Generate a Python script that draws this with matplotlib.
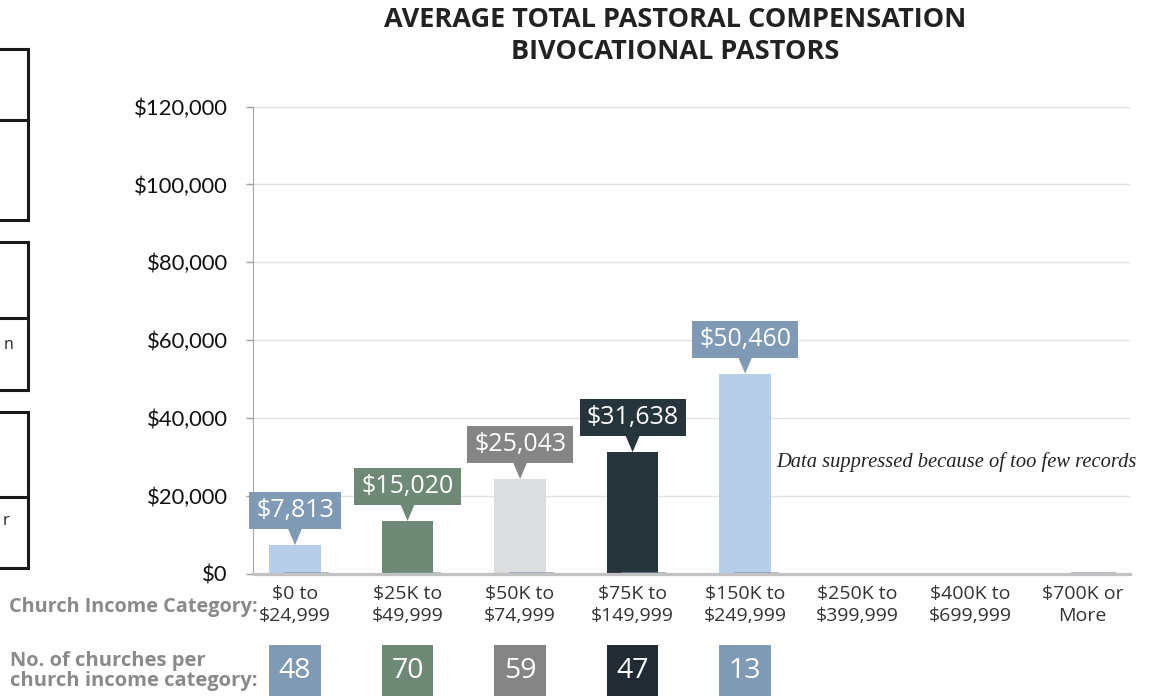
import numpy as np
import matplotlib
matplotlib.use("Agg")
import matplotlib.pyplot as plt
import matplotlib.transforms as mtransforms
from matplotlib.patches import Polygon, Rectangle

# chart data
categories = ["$0 to\n$24,999", "$25K to\n$49,999", "$50K to\n$74,999",
              "$75K to\n$149,999", "$150K to\n$249,999", "$250K to\n$399,999",
              "$400K to\n$699,999", "$700K or\nMore"]
bar_heights = [7300, 13500, 24300, 31200, 51400]
bar_labels = ["$7,813", "$15,020", "$25,043", "$31,638", "$50,460"]
church_counts = [48, 70, 59, 47, 13]
stub_heights = [400, 400, 400, 400, 400, np.nan, np.nan, 400]
y_ticks = [0, 20000, 40000, 60000, 80000, 100000, 120000]

bar_colors = ["#b8cdea", "#6e8a77", "#dcdddf", "#26343b", "#b8cdea"]
label_colors = ["#7f9ab5", "#6e8a77", "#858585", "#26343b", "#7f9ab5"]
count_colors = ["#7f9ab5", "#6e8a77", "#858585", "#202b33", "#7f9ab5"]

W, H = 1155, 696
fig = plt.figure(figsize=(W / 100, H / 100), dpi=100)
ax = fig.add_axes([252.7 / W, 1 - 573.5 / H, (1130 - 252.7) / W, (573.5 - 106.7) / H])

x = np.arange(len(bar_heights))
ax.bar(x, bar_heights, width=0.46, color=bar_colors, zorder=2)
ax.bar(np.arange(len(categories)) + 0.1, stub_heights, width=0.4,
       color="#7f8fa8", alpha=0.6, zorder=3)

ax.set_xlim(-0.376, 7.42)
ax.set_ylim(0, 120000)
ax.set_yticks(y_ticks)
ax.set_yticklabels([f"${v:,.0f}" for v in y_ticks], fontfamily="Lato",
                   fontsize=15.8, color="#111111")
ax.set_xticks(np.arange(len(categories)))
ax.set_xticklabels(categories, fontfamily="Open Sans", fontsize=14,
                   color="#333333", linespacing=1.25)
ax.tick_params(axis="x", length=0, pad=8.5)
ax.tick_params(axis="y", length=5, width=1, color="#a0a0a0", pad=13)
ax.grid(axis="y", color="#e2e2e2", lw=1, zorder=0)
ax.set_axisbelow(True)
for s in ["top", "right"]:
    ax.spines[s].set_visible(False)
ax.spines["left"].set_color("#a8a8a8")
ax.spines["bottom"].set_color("#c2c2c2")
ax.spines["bottom"].set_linewidth(2.3)
ax.spines["bottom"].set_zorder(4)

# value callouts: box + pointer, sized in pixels
renderer = fig.canvas.get_renderer()
for i, (h, lab, c) in enumerate(zip(bar_heights, bar_labels, label_colors)):
    anchor = mtransforms.IdentityTransform() + mtransforms.ScaledTranslation(i, h, ax.transData)
    t = ax.annotate(lab, xy=(i, h), xytext=(0, 34.5), textcoords="offset pixels",
                    ha="center", va="center", fontfamily="Open Sans", fontsize=18,
                    color="white", zorder=6)
    tw = t.get_window_extent(renderer).width
    bw = tw + 14
    ax.add_patch(Rectangle((-bw / 2, 16), bw, 37, fc=c, ec="none",
                           transform=anchor, clip_on=False, zorder=5))
    ax.add_patch(Polygon([(-7, 16.5), (7, 16.5), (0, 0)], closed=True, fc=c, ec="none",
                         transform=anchor, clip_on=False, zorder=5))

fig.text(776 / W, 1 - 462 / H, "Data suppressed because of too few records",
         fontfamily="Liberation Serif", style="italic", fontsize=14.8,
         color="#222222", ha="left", va="center")

# church counts under each category
bt = mtransforms.blended_transform_factory(ax.transData, fig.transFigure)
for i, (n, c) in enumerate(zip(church_counts, count_colors)):
    ax.add_patch(Rectangle((i - 0.23, 0), 0.46, 51 / H, fc=c, ec="none",
                           transform=bt, clip_on=False))
    ax.text(i, 25 / H, str(n), transform=bt, ha="center", va="center",
            fontfamily="Open Sans", fontsize=20.5, color="white")

fig.text(258 / W, 1 - 607 / H, "Church Income Category:", ha="right", va="center",
         fontfamily="Open Sans", fontweight="bold", fontsize=14.3, color="#8a8a8a")
fig.text(10 / W, 1 - 671 / H, "No. of churches per\nchurch income category:",
         ha="left", va="center", fontfamily="Open Sans", fontweight="bold",
         fontsize=14.5, color="#8a8a8a", linespacing=1.05)

fig.text(675 / W, 1 - 36 / H, "AVERAGE TOTAL PASTORAL COMPENSATION\nBIVOCATIONAL PASTORS",
         ha="center", va="center", fontfamily="Open Sans", fontweight="bold",
         fontsize=19.5, color="#222222", linespacing=1.3)

# cut-off boxes from the neighbouring panel on the left edge
for top, mid, bot in [(49, 120, 220), (242, 318, 390), (412, 497, 568)]:
    fig.add_artist(Rectangle((-10 / W, 1 - bot / H), 38 / W, (bot - top) / H,
                             transform=fig.transFigure, fill=False, ec="#1a1a1a", lw=2.2))
    fig.add_artist(plt.Line2D([-10 / W, 28 / W], [1 - mid / H, 1 - mid / H],
                              transform=fig.transFigure, color="#1a1a1a", lw=2.2))
fig.text(4 / W, 1 - 345 / H, "n", fontfamily="Open Sans", fontsize=11.5,
         va="center", color="#222222")
fig.text(3 / W, 1 - 521 / H, "r", fontfamily="Open Sans", fontsize=11.5,
         va="center", color="#222222")

fig.savefig("out.png", dpi=100)
